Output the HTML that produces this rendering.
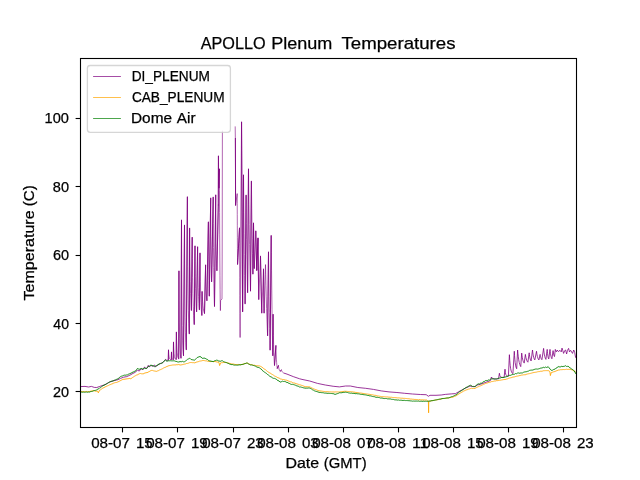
<!DOCTYPE html>
<html><head><meta charset="utf-8"><title>APOLLO Plenum Temperatures</title>
<style>html,body{margin:0;padding:0;background:#fff;}body{width:640px;height:480px;overflow:hidden;font-family:"Liberation Sans",sans-serif;}</style></head>
<body>
<svg width="640" height="480" viewBox="0 0 640 480" style="display:block;font-family:'Liberation Sans',sans-serif;will-change:transform">
<rect width="640" height="480" fill="#fff"/>
<defs><clipPath id="ax"><rect x="80.5" y="58.5" width="496" height="369"/></clipPath></defs>
<g clip-path="url(#ax)">
<polyline points="80.00,386.60 85.00,386.40 88.60,387.00 91.40,386.40 94.25,387.40 96.75,387.50 99.25,386.60 103.00,385.30 106.10,384.10 109.25,382.20 113.00,380.90 118.00,379.70 120.50,378.40 123.60,377.20 126.75,376.60 129.90,375.20 133.00,373.40 135.50,372.20 137.40,370.00 139.25,371.10 141.10,368.80 143.00,369.60 144.60,366.90 145.30,368.40 146.75,368.40 148.30,365.30 149.00,367.00 151.10,365.50 153.00,366.40 154.60,365.00 155.50,366.80 158.00,364.90 160.50,363.60 163.00,362.40 165.50,359.40 167.00,360.60 167.90,360.00" fill="none" stroke="#800080" stroke-width="0.8" stroke-linejoin="round" />
<polyline points="283.90,373.10 287.00,374.10 293.25,376.60 299.50,378.75 302.00,379.40 309.70,381.00 317.50,383.40 325.30,385.00 333.10,386.25 339.40,386.90 345.60,386.00 350.30,386.00 357.80,387.50 365.60,388.30 373.40,389.40 381.25,390.90 389.00,391.90 396.90,392.50 404.70,393.30 412.50,394.00 420.30,394.50 426.20,394.70 428.40,396.25 430.00,395.30 436.00,395.30 441.20,395.00 445.30,394.40 451.25,393.90 455.60,393.60 458.75,391.70 461.50,390.20 465.30,388.20 470.00,386.00 472.50,386.60 475.00,386.60 477.50,385.00 481.25,384.00 485.00,382.60 489.40,381.00 490.60,380.40 490.60,380.40 491.40,377.00 492.11,378.13 492.96,378.64 493.96,378.83 495.09,378.88 496.37,378.90 497.51,378.90 498.50,378.90 499.40,373.25 499.87,375.71 500.43,376.83 501.09,377.24 501.84,377.36 502.69,377.39 503.44,377.40 504.10,377.40 505.00,369.20 505.34,372.37 505.75,374.34 506.22,375.41 506.77,375.91 507.38,376.11 507.92,376.18 508.40,376.20 509.40,354.70 509.75,360.49 510.17,365.22 510.66,368.73 511.22,371.12 511.85,372.60 512.41,373.33 512.90,373.70 514.30,351.25 514.54,355.47 514.83,359.32 515.16,362.56 515.55,365.12 515.98,367.00 516.36,368.09 516.70,368.75 517.60,350.00 517.91,353.48 518.29,356.83 518.73,359.85 519.24,362.41 519.81,364.46 520.31,365.76 520.75,366.60 521.70,353.10 521.95,355.20 522.25,357.22 522.60,359.04 523.00,360.58 523.45,361.81 523.85,362.59 524.20,363.10 525.40,354.40 525.65,356.04 525.95,357.61 526.30,359.03 526.70,360.23 527.15,361.20 527.55,361.81 527.90,362.20 529.20,352.80 529.39,354.52 529.62,356.18 529.88,357.67 530.19,358.93 530.53,359.94 530.83,360.59 531.10,361.00 532.50,350.00 532.73,352.10 533.01,354.12 533.33,355.94 533.70,357.48 534.11,358.71 534.48,359.49 534.80,360.00 536.50,351.25 536.74,353.08 537.03,354.85 537.36,356.44 537.75,357.79 538.18,358.87 538.56,359.56 538.90,360.00 540.10,354.40 540.28,355.51 540.50,356.58 540.75,357.55 541.04,358.36 541.36,359.02 541.65,359.43 541.90,359.70 543.60,348.40 543.83,350.71 544.11,352.93 544.43,354.93 544.80,356.63 545.21,357.98 545.58,358.84 545.90,359.40 547.20,349.40 547.36,351.41 547.54,353.35 547.76,355.10 548.01,356.58 548.28,357.76 548.53,358.51 548.75,359.00 550.00,349.40 550.19,351.36 550.42,353.25 550.68,354.95 550.99,356.39 551.33,357.55 551.63,358.28 551.90,358.75 553.10,350.60 553.24,351.86 553.41,353.07 553.60,354.16 553.83,355.09 554.08,355.83 554.30,356.30 554.50,356.60 555.30,349.40 555.41,349.85 555.54,350.30 555.70,350.74 555.87,351.14 556.07,351.49 556.25,351.73 556.40,351.90 557.20,350.00 558.40,351.60 560.00,350.30 561.25,351.90 562.00,348.10 562.80,350.60 563.60,353.40 564.70,350.60 565.60,350.00 566.60,354.00 567.50,350.30 568.60,348.40 569.50,351.90 570.60,350.30 572.50,353.40 573.75,350.00 574.70,352.50 575.60,357.50 576.40,358.00" fill="none" stroke="#800080" stroke-width="0.8" stroke-linejoin="round" />
<polyline points="167.90,360.00 168.30,360.00 168.50,350.00 168.78,354.34 169.12,357.05 169.51,358.51 169.96,359.20 170.46,359.48 170.91,359.57 171.30,359.60 171.50,352.20 171.68,355.55 171.90,357.64 172.15,358.76 172.44,359.29 172.76,359.51 173.05,359.58 173.30,359.60 173.50,342.20 173.77,349.01 174.09,353.75 174.47,356.65 174.90,358.23 175.39,358.99 175.82,359.28 176.20,359.40 176.40,332.20 176.63,341.12 176.91,348.03 177.23,352.84 177.60,355.87 178.01,357.60 178.38,358.38 178.70,358.75 178.95,271.00 179.16,300.25 179.40,322.92 179.69,338.70 180.02,348.64 180.38,354.33 180.71,356.88 181.00,358.10 181.50,220.10 181.70,265.61 181.94,300.88 182.22,325.43 182.54,340.88 182.90,349.73 183.22,353.70 183.50,355.60 184.50,225.25 184.68,263.15 184.90,294.16 185.15,317.18 185.44,332.78 185.76,342.50 186.05,347.25 186.30,349.70 187.40,196.90 187.59,234.23 187.82,266.48 188.08,292.01 188.39,310.66 188.73,323.28 189.03,330.01 189.30,333.75 189.60,228.25 189.78,248.02 190.00,266.07 190.25,281.30 190.54,293.28 190.86,302.10 191.15,307.23 191.40,310.30 192.20,237.40 192.41,258.37 192.65,277.50 192.94,293.65 193.27,306.35 193.63,315.71 193.96,321.14 194.25,324.40 195.00,246.00 195.16,261.81 195.35,276.23 195.58,288.41 195.83,297.99 196.12,305.05 196.38,309.14 196.60,311.60 197.60,246.90 197.78,262.03 198.00,275.84 198.25,287.50 198.54,296.67 198.86,303.43 199.15,307.35 199.40,309.70 200.00,253.10 200.19,268.09 200.41,281.77 200.67,293.31 200.96,302.39 201.29,309.09 201.59,312.97 201.85,315.30 202.10,291.60 202.34,296.85 202.63,301.65 202.96,305.69 203.35,308.88 203.78,311.22 204.16,312.58 204.50,313.40 205.60,265.00 205.73,273.58 205.89,281.41 206.07,288.02 206.28,293.21 206.51,297.04 206.72,299.27 206.90,300.60 208.40,222.00 208.49,239.83 208.60,256.11 208.72,269.84 208.87,280.65 209.03,288.61 209.17,293.23 209.30,296.00 210.70,198.10 210.79,218.22 210.90,236.58 211.02,252.08 211.17,264.28 211.33,273.26 211.47,278.47 211.60,281.60 213.20,197.20 213.33,223.49 213.49,247.48 213.67,267.73 213.88,283.66 214.11,295.40 214.32,302.21 214.50,306.30 215.70,195.00 215.82,213.22 215.96,229.84 216.13,243.88 216.32,254.91 216.54,263.05 216.73,267.77 216.90,270.60 218.30,205.00 218.30,205.00 218.30,205.00 218.30,205.00 218.30,205.00 218.30,205.00 218.30,205.00 218.30,205.00 218.45,156.00 218.50,161.18 218.55,166.63 218.61,172.06 218.68,177.26 218.76,182.02 218.84,185.48 218.90,188.00 219.40,169.00 219.48,190.20 219.58,212.50 219.69,234.76 219.82,256.02 219.96,275.53 220.09,289.67 220.20,300.00 220.40,310.60 220.60,300.50 222.00,299.00 222.20,250.00 222.40,130.60" fill="none" stroke="#800080" stroke-width="0.6" stroke-linejoin="round" />
<polyline points="235.20,126.40 235.35,138.00 235.50,170.00 235.60,205.50 237.20,193.60 237.23,203.47 237.28,214.32 237.33,225.73 237.38,237.29 237.44,248.65 237.50,257.46 237.55,264.30 239.50,228.00 239.56,243.29 239.63,260.09 239.72,277.76 239.81,295.67 239.92,313.26 240.02,326.91 240.10,337.50 240.80,215.00 240.80,215.00 240.80,215.00 240.80,215.00 240.80,215.00 240.80,215.00 240.80,215.00 240.80,215.00 241.55,122.00 241.66,148.46 241.78,177.54 241.93,208.11 242.10,239.11 242.28,269.56 242.45,293.17 242.60,311.50 243.50,175.00 243.66,192.98 243.85,212.73 244.08,233.51 244.33,254.57 244.62,275.25 244.88,291.30 245.10,303.75 246.10,195.20 246.25,208.78 246.43,223.72 246.64,239.42 246.88,255.33 247.15,270.96 247.39,283.09 247.60,292.50 248.50,169.00 248.70,186.03 248.94,204.75 249.22,224.44 249.54,244.40 249.90,264.00 250.22,279.20 250.50,291.00 251.40,181.25 251.55,194.20 251.73,208.43 251.94,223.40 252.18,238.57 252.45,253.47 252.69,265.03 252.90,274.00 253.50,223.20 253.57,229.51 253.66,236.45 253.77,243.74 253.89,251.13 254.03,258.40 254.15,264.03 254.25,268.40 255.80,231.00 255.90,236.48 256.01,242.50 256.14,248.84 256.29,255.26 256.47,261.56 256.62,266.45 256.75,270.25 258.00,238.20 258.07,246.74 258.17,256.14 258.27,266.01 258.39,276.02 258.52,285.85 258.64,293.48 258.75,299.40 260.50,256.20 260.62,264.13 260.77,272.85 260.95,282.01 261.15,291.30 261.38,300.43 261.57,307.51 261.75,313.00 263.50,269.00 263.56,275.14 263.63,281.89 263.72,288.99 263.81,296.19 263.92,303.26 264.02,308.75 264.10,313.00 265.50,264.60 265.71,274.51 265.96,285.41 266.26,296.86 266.59,308.48 266.97,319.89 267.31,328.73 267.60,335.60 268.50,252.00 268.66,265.68 268.85,280.72 269.08,296.53 269.33,312.56 269.62,328.31 269.88,340.52 270.10,350.00 271.20,235.60 271.36,252.35 271.55,270.77 271.78,290.13 272.03,309.76 272.32,329.04 272.58,344.00 272.80,355.60 273.10,314.40 273.24,325.07 273.41,335.35 273.60,344.61 273.83,352.46 274.08,358.75 274.30,362.73 274.50,365.30 275.90,345.60 276.04,350.38 276.21,354.99 276.40,359.13 276.63,362.65 276.88,365.47 277.10,367.25 277.30,368.40 278.40,365.60 278.57,366.78 278.77,367.93 279.01,368.95 279.28,369.82 279.59,370.52 279.86,370.96 280.10,371.25 281.40,370.00 281.65,370.65 281.95,371.28 282.30,371.84 282.70,372.32 283.15,372.70 283.55,372.94 283.90,373.10" fill="none" stroke="#800080" stroke-width="0.6" stroke-linejoin="round" />
<line x1="235.4" y1="138" x2="235.55" y2="205.5" stroke="#800080" stroke-width="0.9"/>
<line x1="241.55" y1="122.00" x2="242.60" y2="311.50" stroke="#800080" stroke-width="0.85" stroke-linecap="round"/>
<line x1="242.60" y1="311.50" x2="243.50" y2="175.00" stroke="#800080" stroke-width="0.85" stroke-linecap="round"/>
<line x1="245.10" y1="303.75" x2="246.10" y2="195.20" stroke="#800080" stroke-width="0.85" stroke-linecap="round"/>
<line x1="247.60" y1="292.50" x2="248.50" y2="169.00" stroke="#800080" stroke-width="0.85" stroke-linecap="round"/>
<line x1="250.50" y1="291.00" x2="251.40" y2="181.25" stroke="#800080" stroke-width="0.85" stroke-linecap="round"/>
<line x1="252.90" y1="274.00" x2="253.50" y2="223.20" stroke="#800080" stroke-width="0.85" stroke-linecap="round"/>
<line x1="253.50" y1="223.20" x2="254.25" y2="268.40" stroke="#800080" stroke-width="0.85" stroke-linecap="round"/>
<line x1="255.80" y1="231.00" x2="256.75" y2="270.25" stroke="#800080" stroke-width="0.85" stroke-linecap="round"/>
<line x1="256.75" y1="270.25" x2="258.00" y2="238.20" stroke="#800080" stroke-width="0.85" stroke-linecap="round"/>
<line x1="258.00" y1="238.20" x2="258.75" y2="299.40" stroke="#800080" stroke-width="0.85" stroke-linecap="round"/>
<line x1="260.50" y1="256.20" x2="261.75" y2="313.00" stroke="#800080" stroke-width="0.85" stroke-linecap="round"/>
<line x1="263.50" y1="269.00" x2="264.10" y2="313.00" stroke="#800080" stroke-width="0.85" stroke-linecap="round"/>
<line x1="267.60" y1="335.60" x2="268.50" y2="252.00" stroke="#800080" stroke-width="0.85" stroke-linecap="round"/>
<line x1="270.10" y1="350.00" x2="271.20" y2="235.60" stroke="#800080" stroke-width="0.85" stroke-linecap="round"/>
<line x1="168.30" y1="360.00" x2="168.50" y2="350.00" stroke="#800080" stroke-width="0.85" stroke-linecap="round"/>
<line x1="171.30" y1="359.60" x2="171.50" y2="352.20" stroke="#800080" stroke-width="0.85" stroke-linecap="round"/>
<line x1="173.30" y1="359.60" x2="173.50" y2="342.20" stroke="#800080" stroke-width="0.85" stroke-linecap="round"/>
<line x1="176.20" y1="359.40" x2="176.40" y2="332.20" stroke="#800080" stroke-width="0.85" stroke-linecap="round"/>
<line x1="178.70" y1="358.75" x2="178.95" y2="271.00" stroke="#800080" stroke-width="0.85" stroke-linecap="round"/>
<line x1="181.00" y1="358.10" x2="181.50" y2="220.10" stroke="#800080" stroke-width="0.85" stroke-linecap="round"/>
<line x1="183.50" y1="355.60" x2="184.50" y2="225.25" stroke="#800080" stroke-width="0.85" stroke-linecap="round"/>
<line x1="186.30" y1="349.70" x2="187.40" y2="196.90" stroke="#800080" stroke-width="0.85" stroke-linecap="round"/>
<line x1="189.30" y1="333.75" x2="189.60" y2="228.25" stroke="#800080" stroke-width="0.85" stroke-linecap="round"/>
<line x1="191.40" y1="310.30" x2="192.20" y2="237.40" stroke="#800080" stroke-width="0.85" stroke-linecap="round"/>
<line x1="194.25" y1="324.40" x2="195.00" y2="246.00" stroke="#800080" stroke-width="0.85" stroke-linecap="round"/>
<line x1="196.60" y1="311.60" x2="197.60" y2="246.90" stroke="#800080" stroke-width="0.85" stroke-linecap="round"/>
<line x1="199.40" y1="309.70" x2="200.00" y2="253.10" stroke="#800080" stroke-width="0.85" stroke-linecap="round"/>
<line x1="201.85" y1="315.30" x2="202.10" y2="291.60" stroke="#800080" stroke-width="0.85" stroke-linecap="round"/>
<line x1="204.50" y1="313.40" x2="205.60" y2="265.00" stroke="#800080" stroke-width="0.85" stroke-linecap="round"/>
<line x1="206.90" y1="300.60" x2="208.40" y2="222.00" stroke="#800080" stroke-width="0.85" stroke-linecap="round"/>
<line x1="209.30" y1="296.00" x2="210.70" y2="198.10" stroke="#800080" stroke-width="0.85" stroke-linecap="round"/>
<line x1="211.60" y1="281.60" x2="213.20" y2="197.20" stroke="#800080" stroke-width="0.85" stroke-linecap="round"/>
<line x1="214.50" y1="306.30" x2="215.70" y2="195.00" stroke="#800080" stroke-width="0.85" stroke-linecap="round"/>
<line x1="216.90" y1="270.60" x2="218.30" y2="205.00" stroke="#800080" stroke-width="0.85" stroke-linecap="round"/>
<line x1="218.30" y1="205.00" x2="218.45" y2="156.00" stroke="#800080" stroke-width="0.85" stroke-linecap="round"/>
<line x1="218.90" y1="188.00" x2="219.40" y2="169.00" stroke="#800080" stroke-width="0.85" stroke-linecap="round"/>
<line x1="237.55" y1="264.30" x2="239.50" y2="228.00" stroke="#800080" stroke-width="0.85" stroke-linecap="round"/>
<line x1="272.80" y1="355.60" x2="273.10" y2="314.40" stroke="#800080" stroke-width="0.85" stroke-linecap="round"/>
<line x1="274.50" y1="365.30" x2="275.90" y2="345.60" stroke="#800080" stroke-width="0.85" stroke-linecap="round"/>
<line x1="277.30" y1="368.40" x2="278.40" y2="365.60" stroke="#800080" stroke-width="0.85" stroke-linecap="round"/>
<line x1="280.10" y1="371.25" x2="281.40" y2="370.00" stroke="#800080" stroke-width="0.85" stroke-linecap="round"/>
<polyline points="80.00,391.60 80.92,391.52 81.85,391.61 82.78,391.56 83.70,391.63 84.62,391.64 85.55,391.47 86.47,391.45 87.40,391.70 88.33,391.53 89.25,391.52 90.04,391.50 90.83,391.09 91.61,390.95 92.40,390.59 93.33,390.80 94.25,390.82 95.17,391.13 96.10,391.36 96.85,391.13 97.60,391.07 98.30,392.85 99.60,390.17 100.45,389.83 101.30,389.23 102.15,388.59 103.00,387.96 104.03,387.64 105.07,386.96 106.10,386.47 106.89,386.16 107.67,385.76 108.46,385.48 109.25,384.97 110.19,384.69 111.12,384.18 112.06,383.93 113.00,383.51 113.83,383.03 114.67,382.79 115.50,382.57 116.33,382.54 117.17,382.13 118.00,381.94 118.98,381.34 119.96,380.90 120.94,380.37 121.92,379.86 122.90,379.43 123.93,379.26 124.97,379.19 126.00,378.95 126.97,378.88 127.95,378.71 128.93,378.60 129.90,378.35 130.80,379.00 131.50,378.11 132.50,377.54 133.50,376.92 134.50,376.22 135.50,375.66 136.33,375.15 137.17,374.97 138.00,374.52 138.83,374.07 139.67,373.64 140.50,373.51 141.33,373.75 142.17,373.68 143.00,374.09 144.00,373.37 145.00,373.00 146.00,372.74 147.00,372.58 148.00,372.31 148.94,371.59 149.88,371.28 150.81,370.64 151.75,370.37 152.58,370.43 153.42,370.78 154.25,370.99 155.08,371.03 155.92,371.37 156.75,371.34 157.69,370.85 158.62,370.58 159.56,369.98 160.50,369.61 161.44,369.20 162.38,368.78 163.31,368.17 164.25,367.66 165.19,367.44 166.12,366.79 167.06,366.51 168.00,366.02 168.90,365.68 169.80,365.53 170.70,365.37 171.60,365.22 172.50,365.03 173.39,364.96 174.29,364.92 175.18,364.96 176.07,364.77 176.96,364.69 177.86,364.72 178.75,364.52 180.00,364.94 180.94,364.99 181.88,364.71 182.81,364.56 183.75,364.25 184.69,364.12 185.62,363.92 186.56,363.51 187.50,363.43 188.53,363.14 189.57,362.67 190.60,362.54 191.48,362.55 192.36,362.67 193.24,362.64 194.12,362.80 195.00,362.87 195.94,362.31 196.88,361.97 197.81,361.80 198.75,361.54 199.62,361.15 200.49,361.03 201.36,360.89 202.23,360.63 203.10,360.46 203.89,360.54 204.68,360.66 205.46,360.83 206.25,360.84 207.17,361.06 208.08,361.38 209.00,361.36 209.86,361.54 210.71,361.60 211.57,361.49 212.43,361.47 213.29,361.66 214.14,361.51 215.00,361.51 216.03,361.78 217.07,362.06 218.10,362.08 219.00,362.55 219.60,365.55 220.60,362.90 221.43,362.70 222.27,362.74 223.10,362.45 223.93,362.42 224.77,362.43 225.60,362.42 226.54,362.55 227.48,362.74 228.42,362.97 229.36,363.35 230.30,363.51 231.24,363.85 232.18,364.02 233.12,363.99 234.06,364.17 235.00,364.49 235.89,364.49 236.79,364.58 237.68,364.48 238.57,364.46 239.46,364.55 240.36,364.75 241.25,364.63 242.16,364.39 243.07,364.14 243.97,363.88 244.88,363.61 245.79,363.49 246.70,363.00 247.67,363.28 248.65,363.88 249.62,364.19 250.60,364.55 251.54,364.60 252.48,364.98 253.42,365.19 254.36,365.20 255.30,365.57 256.18,365.70 257.06,365.75 257.94,365.81 258.82,365.84 259.70,365.95 260.47,366.32 261.23,366.67 262.00,367.23 262.89,367.81 263.79,368.64 264.68,369.08 265.57,370.01 266.46,370.62 267.36,371.36 268.25,372.02 269.14,372.59 270.04,373.07 270.93,373.47 271.82,374.26 272.71,374.66 273.61,375.27 274.50,375.95 275.39,376.35 276.29,376.76 277.18,377.36 278.07,377.71 278.96,378.07 279.86,378.48 280.75,379.11 281.64,379.18 282.54,379.46 283.43,379.51 284.32,379.65 285.21,379.94 286.11,380.21 287.00,380.20 287.89,380.74 288.79,381.14 289.68,381.46 290.57,381.83 291.46,381.94 292.36,382.48 293.25,382.91 294.14,382.94 295.04,383.27 295.93,383.54 296.82,383.89 297.71,384.13 298.61,384.42 299.50,384.78 300.42,384.94 301.33,385.26 302.25,385.59 303.17,385.91 304.08,386.21 305.00,386.68 305.94,386.72 306.88,386.65 307.82,386.78 308.76,386.81 309.70,386.87 310.64,387.34 311.58,387.84 312.52,388.29 313.46,388.72 314.40,389.15 315.32,389.49 316.24,389.78 317.16,390.17 318.08,390.51 319.00,390.78 319.90,390.85 320.80,390.98 321.70,391.12 322.60,391.27 323.50,391.42 324.40,391.47 325.30,391.65 326.17,391.66 327.03,391.68 327.90,391.71 328.77,391.78 329.63,391.85 330.50,391.85 331.37,391.94 332.23,391.95 333.10,391.96 334.00,391.99 334.90,392.00 335.80,391.89 336.70,391.93 337.60,391.92 338.50,391.98 339.40,391.97 340.29,391.79 341.17,391.78 342.06,391.67 342.94,391.49 343.83,391.43 344.71,391.28 345.60,391.30 346.54,391.35 347.48,391.45 348.42,391.51 349.36,391.56 350.30,391.64 351.24,391.75 352.18,391.81 353.11,392.03 354.05,392.07 354.99,392.23 355.93,392.47 356.86,392.49 357.80,392.63 358.67,392.75 359.53,392.99 360.40,393.00 361.27,393.09 362.13,393.34 363.00,393.34 363.87,393.57 364.73,393.66 365.60,393.80 366.47,393.96 367.33,394.04 368.20,394.21 369.07,394.23 369.93,394.49 370.80,394.59 371.67,394.76 372.53,394.80 373.40,395.04 374.27,395.25 375.14,395.29 376.02,395.51 376.89,395.72 377.76,395.94 378.63,396.03 379.51,396.19 380.38,396.38 381.25,396.62 382.11,396.70 382.97,396.69 383.83,396.75 384.69,396.81 385.56,396.85 386.42,396.92 387.28,396.92 388.14,397.04 389.00,397.18 389.88,397.16 390.76,397.30 391.63,397.28 392.51,397.44 393.39,397.53 394.27,397.59 395.14,397.65 396.02,397.72 396.90,397.82 397.77,397.93 398.63,397.88 399.50,397.94 400.37,398.11 401.23,398.20 402.10,398.20 402.97,398.26 403.83,398.37 404.70,398.35 405.57,398.45 406.43,398.53 407.30,398.68 408.17,398.73 409.03,398.80 409.90,398.96 410.77,399.09 411.63,399.08 412.50,399.23 413.34,399.26 414.19,399.40 415.03,399.43 415.87,399.45 416.71,399.51 417.56,399.55 418.40,399.70 418.60,400.28 419.20,399.55 420.30,399.78 421.20,399.80 422.10,399.90 423.00,399.83 423.90,399.99 424.80,399.94 425.70,399.99 426.60,399.99 427.50,400.65 428.40,401.25 428.60,412.81 428.80,401.50 429.40,401.29 430.25,401.12 431.10,400.86 431.95,400.72 432.80,400.57 433.74,400.33 434.68,400.14 435.62,399.98 436.56,399.89 437.50,399.73 438.39,399.59 439.29,399.39 440.18,399.10 441.07,398.91 441.96,398.73 442.86,398.54 443.75,398.43 444.58,398.37 445.42,398.30 446.25,398.11 447.08,398.13 447.92,397.95 448.75,397.89 449.69,397.79 450.62,397.53 451.56,397.38 452.50,397.35 453.44,396.88 454.38,396.50 455.31,396.15 456.25,395.78 457.19,395.05 458.12,394.47 459.06,393.86 460.00,393.25 460.94,392.64 461.88,392.14 462.81,391.64 463.75,390.98 464.80,390.61 465.85,390.09 466.90,389.73 467.82,389.50 468.75,388.98 469.68,388.87 470.60,388.52 471.48,388.28 472.36,388.53 473.24,388.36 474.12,388.48 475.00,388.48 475.83,387.87 476.67,387.52 477.50,387.05 478.44,386.69 479.38,386.13 480.31,385.88 481.25,385.54 482.08,385.09 482.92,384.69 483.75,384.21 484.58,383.96 485.42,383.56 486.25,383.32 487.14,383.04 488.04,382.74 488.93,382.36 489.82,382.24 490.71,381.97 491.61,381.57 492.50,381.52 493.39,381.30 494.29,381.00 495.18,381.10 496.07,380.72 496.96,380.64 497.86,380.61 498.75,380.43 499.64,380.29 500.54,380.19 501.43,380.00 502.32,379.83 503.21,379.66 504.11,379.50 505.00,379.56 505.89,379.30 506.79,378.97 507.68,378.76 508.57,378.37 509.46,378.07 510.36,377.84 511.25,377.71 512.14,377.25 513.04,377.17 513.93,376.88 514.82,376.82 515.71,376.48 516.61,376.26 517.50,376.07 518.33,375.88 519.17,375.71 520.00,375.36 520.83,375.40 521.67,375.07 522.50,375.01 523.33,374.85 524.17,374.74 525.00,374.83 525.89,374.58 526.79,374.18 527.68,373.95 528.57,373.78 529.46,373.64 530.36,373.43 531.25,373.17 532.14,372.96 533.04,372.65 533.93,372.56 534.82,372.32 535.71,372.25 536.61,372.09 537.50,371.81 538.39,371.65 539.29,371.64 540.18,371.24 541.07,371.31 541.96,371.16 542.86,371.01 543.75,370.66 544.62,370.68 545.49,370.64 546.36,370.62 547.23,370.68 548.10,370.56 549.00,370.94 549.90,371.61 550.40,375.60 551.10,372.73 552.08,372.44 553.05,371.90 554.02,371.81 555.00,371.45 556.00,371.00 557.00,370.61 558.00,370.19 558.81,369.98 559.62,369.96 560.44,369.69 561.25,369.70 562.08,369.68 562.92,369.55 563.75,369.52 564.58,369.57 565.42,369.48 566.25,369.19 567.19,369.41 568.12,369.39 569.06,369.24 570.00,369.36 570.83,369.55 571.67,369.74 572.50,370.11 573.45,370.68 574.40,370.95 575.20,371.71 576.00,372.26" fill="none" stroke="#ffa500" stroke-width="0.85" stroke-linejoin="round" />
<polyline points="80.00,392.20 80.92,392.13 81.85,392.06 82.78,392.26 83.70,392.03 84.62,392.21 85.55,392.15 86.47,392.02 87.40,392.20 88.33,392.01 89.25,392.17 90.04,391.79 90.83,391.56 91.61,391.46 92.40,391.38 93.43,390.78 94.47,390.51 95.50,390.35 96.33,390.08 97.17,389.53 98.00,389.06 98.83,388.76 99.67,387.85 100.50,387.64 101.33,386.88 102.17,386.29 103.00,385.75 104.03,385.22 105.07,384.83 106.10,383.97 106.89,383.66 107.67,383.21 108.46,382.62 109.25,382.22 110.19,381.70 111.12,381.37 112.06,381.11 113.00,380.97 113.83,380.51 114.67,380.11 115.50,379.86 116.33,379.45 117.17,379.03 118.00,378.87 118.83,378.11 119.67,377.21 120.50,376.63 121.53,376.18 122.57,375.88 123.60,375.39 124.39,375.14 125.17,375.34 125.96,374.92 126.75,374.97 127.54,374.79 128.32,374.24 129.11,374.06 129.90,373.57 130.93,373.20 131.97,372.62 133.00,371.97 133.83,371.94 134.67,371.05 135.50,371.10 136.45,369.74 137.40,368.48 138.15,368.66 138.90,369.34 140.00,369.14 141.10,368.37 142.05,369.06 143.00,368.96 143.80,368.80 144.60,367.95 145.68,368.44 146.75,368.42 147.68,367.13 148.60,366.49 149.43,366.34 150.27,365.26 151.10,365.26 152.05,365.44 153.00,365.87 153.83,365.93 154.67,366.75 155.50,366.23 156.33,365.71 157.17,365.22 158.00,365.07 158.83,363.85 159.67,363.78 160.50,363.45 161.33,363.38 162.17,362.92 163.00,362.56 163.83,361.25 164.67,360.65 165.50,359.86 166.25,360.93 167.00,361.56 167.92,360.70 168.83,360.81 169.75,360.79 170.67,360.74 171.58,360.84 172.50,360.85 173.39,360.81 174.29,360.82 175.18,361.22 176.07,361.35 176.96,361.63 177.86,362.01 178.75,362.01 180.00,361.61 180.88,361.67 181.76,361.71 182.64,361.33 183.52,361.84 184.40,361.77 185.43,361.09 186.47,360.31 187.50,359.34 188.60,358.84 189.70,358.16 190.80,359.28 191.90,359.74 192.83,359.84 193.77,360.03 194.70,360.10 195.53,359.37 196.37,358.36 197.20,357.50 198.13,357.19 199.07,356.76 200.00,356.52 201.10,357.07 202.20,358.32 203.13,358.27 204.07,358.09 205.00,358.25 205.83,358.74 206.67,359.19 207.50,359.47 208.33,360.31 209.17,360.80 210.00,360.88 211.03,361.22 212.07,361.32 213.10,361.66 213.93,361.27 214.77,360.69 215.60,360.50 216.43,360.20 217.27,360.21 218.10,360.87 219.05,361.02 220.00,361.19 220.83,361.23 221.67,360.72 222.50,360.82 223.44,361.55 224.38,361.94 225.32,362.30 226.26,362.50 227.20,363.02 228.14,363.22 229.08,363.90 230.02,364.08 230.96,364.55 231.90,364.60 232.79,364.58 233.67,364.97 234.56,365.12 235.44,365.08 236.33,365.10 237.21,365.15 238.10,365.14 239.04,364.78 239.98,364.89 240.92,364.73 241.86,364.48 242.80,364.42 243.78,364.09 244.75,363.61 245.72,363.39 246.70,363.07 247.67,363.24 248.65,364.01 249.62,364.52 250.60,364.97 251.54,364.93 252.48,365.15 253.42,365.47 254.36,365.76 255.30,366.07 256.18,366.63 257.06,367.11 257.94,367.38 258.82,367.48 259.70,367.89 260.47,368.71 261.23,369.02 262.00,370.10 262.89,370.96 263.79,371.60 264.68,372.29 265.57,372.84 266.46,373.38 267.36,374.46 268.25,374.90 269.19,375.81 270.12,376.53 271.06,376.81 272.00,377.44 272.83,378.13 273.67,378.37 274.50,378.40 275.33,378.74 276.17,379.12 277.00,379.94 278.03,380.62 279.07,380.95 280.10,382.10 280.93,381.97 281.77,381.56 282.60,381.16 283.48,381.47 284.36,381.41 285.24,381.53 286.12,382.29 287.00,382.29 287.94,382.67 288.88,383.36 289.81,383.51 290.75,384.22 291.69,384.45 292.62,384.33 293.56,384.60 294.50,384.88 295.35,385.16 296.20,385.69 297.05,385.82 297.90,386.23 298.75,386.38 299.64,387.06 300.54,386.98 301.43,387.23 302.32,387.48 303.21,387.79 304.11,387.86 305.00,388.23 305.94,388.10 306.88,388.11 307.82,388.11 308.76,387.96 309.70,388.08 310.64,388.54 311.58,389.03 312.52,389.81 313.46,390.16 314.40,390.79 315.32,391.17 316.24,391.42 317.16,391.65 318.08,392.01 319.00,392.32 319.90,392.50 320.80,392.41 321.70,392.66 322.60,392.68 323.50,392.80 324.40,393.07 325.30,393.10 326.17,393.17 327.03,393.29 327.90,393.39 328.77,393.31 329.63,393.41 330.50,393.43 331.37,393.49 332.23,393.60 333.10,393.59 334.05,394.01 335.00,394.39 335.88,394.21 336.76,393.82 337.64,393.55 338.52,393.25 339.40,392.73 340.29,392.75 341.17,392.79 342.06,392.69 342.94,392.41 343.83,392.33 344.71,392.35 345.60,392.17 346.54,392.38 347.48,392.49 348.42,392.83 349.36,393.03 350.30,393.22 351.24,393.08 352.18,393.33 353.11,393.39 354.05,393.32 354.99,393.62 355.93,393.73 356.86,393.58 357.80,393.89 358.67,393.86 359.53,394.02 360.40,394.31 361.27,394.41 362.13,394.34 363.00,394.56 363.87,394.73 364.73,394.81 365.60,394.91 366.47,395.12 367.33,395.42 368.20,395.39 369.07,395.73 369.93,395.87 370.80,395.92 371.67,396.19 372.53,396.46 373.40,396.60 374.27,396.64 375.14,397.08 376.02,397.19 376.89,397.41 377.76,397.31 378.63,397.53 379.51,397.63 380.38,398.02 381.25,398.03 382.11,398.08 382.97,398.25 383.83,398.49 384.69,398.55 385.56,398.47 386.42,398.53 387.28,398.85 388.14,398.83 389.00,398.96 389.88,398.90 390.76,399.01 391.63,399.32 392.51,399.37 393.39,399.38 394.27,399.76 395.14,399.80 396.02,399.97 396.90,399.88 397.77,400.16 398.63,399.98 399.50,400.28 400.37,400.21 401.23,400.23 402.10,400.35 402.97,400.52 403.83,400.37 404.70,400.39 405.57,400.57 406.43,400.55 407.30,400.58 408.17,400.67 409.03,400.70 409.90,400.81 410.77,400.91 411.63,400.97 412.50,401.18 413.37,401.05 414.23,401.13 415.10,401.05 415.97,401.12 416.83,401.04 417.70,401.13 418.57,401.07 419.43,401.30 420.30,401.27 421.17,401.16 422.03,401.24 422.90,401.38 423.77,401.13 424.63,401.35 425.50,401.23 426.37,401.25 427.23,401.35 428.10,401.22 429.04,401.10 429.98,401.01 430.92,400.94 431.86,400.60 432.80,400.60 433.74,400.40 434.68,400.22 435.62,399.99 436.56,399.81 437.50,399.57 438.39,399.40 439.29,399.20 440.18,399.22 441.07,398.88 441.96,398.67 442.86,398.46 443.75,398.50 444.58,398.43 445.42,398.28 446.25,398.08 447.08,397.99 447.92,397.92 448.75,397.89 449.69,397.42 450.62,397.13 451.56,396.70 452.50,396.54 453.44,396.14 454.38,395.61 455.31,395.12 456.25,394.94 457.30,393.81 458.35,392.89 459.40,391.85 460.32,391.34 461.25,390.74 462.18,390.13 463.10,389.41 464.05,388.95 465.00,388.05 465.95,387.68 466.90,387.01 467.82,386.75 468.75,386.03 469.68,385.54 470.60,385.26 471.55,385.71 472.50,386.46 473.33,386.42 474.17,386.58 475.00,386.51 475.83,385.82 476.67,385.20 477.50,384.12 478.44,383.84 479.38,384.06 480.31,383.24 481.25,383.41 482.12,382.78 482.99,381.79 483.86,381.77 484.73,381.24 485.60,380.49 486.55,380.49 487.50,380.47 488.45,379.92 489.40,380.12 490.32,379.35 491.25,378.83 492.12,378.87 492.99,378.95 493.86,378.84 494.73,379.11 495.60,379.03 496.65,378.94 497.70,378.51 498.75,378.27 499.80,378.01 500.85,377.84 501.90,377.32 502.93,377.64 503.97,377.24 505.00,377.09 506.03,376.79 507.07,376.53 508.10,376.09 509.15,375.32 510.20,375.44 511.25,374.97 512.30,374.60 513.35,374.42 514.40,374.31 515.43,373.58 516.47,373.73 517.50,373.08 518.33,372.95 519.17,373.09 520.00,373.41 520.83,372.82 521.67,372.97 522.50,372.91 523.33,372.35 524.17,372.04 525.00,371.89 525.89,371.79 526.79,371.62 527.68,371.27 528.57,371.06 529.46,370.43 530.36,370.24 531.25,370.08 532.14,370.24 533.04,369.76 533.93,369.76 534.82,369.19 535.71,369.05 536.61,369.02 537.50,369.12 538.39,368.92 539.29,368.69 540.18,368.21 541.07,368.15 541.96,367.90 542.86,367.69 543.75,367.23 544.62,367.66 545.49,367.05 546.36,367.47 547.23,367.33 548.10,366.56 549.15,367.90 550.20,369.19 551.25,370.33 552.50,370.21 553.33,369.67 554.17,369.21 555.00,369.31 556.03,368.10 557.07,367.66 558.10,366.65 559.15,366.82 560.20,367.02 561.25,366.34 562.12,366.68 562.99,366.33 563.86,366.45 564.73,366.18 565.60,365.71 566.43,366.41 567.27,366.36 568.10,366.27 569.15,366.97 570.20,368.03 571.25,368.72 572.08,369.23 572.92,369.73 573.75,370.49 574.88,372.05 576.00,373.99" fill="none" stroke="#008000" stroke-width="0.9" stroke-linejoin="round" />
</g>
<rect x="80.5" y="58.5" width="496" height="369" fill="none" stroke="#000" stroke-width="1.1"/>
<line x1="122.50" y1="427.5" x2="122.50" y2="432.4" stroke="#000" stroke-width="1.1"/>
<text x="91.18" y="447.90" stroke="#000" stroke-width="0.25" font-size="14.6" textLength="38.75" lengthAdjust="spacingAndGlyphs">08-07</text>
<text x="135.99" y="447.90" stroke="#000" stroke-width="0.25" font-size="14.6" textLength="16.78" lengthAdjust="spacingAndGlyphs">15</text>
<line x1="177.50" y1="427.5" x2="177.50" y2="432.4" stroke="#000" stroke-width="1.1"/>
<text x="146.18" y="447.90" stroke="#000" stroke-width="0.25" font-size="14.6" textLength="38.75" lengthAdjust="spacingAndGlyphs">08-07</text>
<text x="190.99" y="447.90" stroke="#000" stroke-width="0.25" font-size="14.6" textLength="16.78" lengthAdjust="spacingAndGlyphs">19</text>
<line x1="233.50" y1="427.5" x2="233.50" y2="432.4" stroke="#000" stroke-width="1.1"/>
<text x="202.18" y="447.90" stroke="#000" stroke-width="0.25" font-size="14.6" textLength="38.75" lengthAdjust="spacingAndGlyphs">08-07</text>
<text x="246.99" y="447.90" stroke="#000" stroke-width="0.25" font-size="14.6" textLength="16.78" lengthAdjust="spacingAndGlyphs">23</text>
<line x1="288.50" y1="427.5" x2="288.50" y2="432.4" stroke="#000" stroke-width="1.1"/>
<text x="257.18" y="447.90" stroke="#000" stroke-width="0.25" font-size="14.6" textLength="38.75" lengthAdjust="spacingAndGlyphs">08-08</text>
<text x="301.99" y="447.90" stroke="#000" stroke-width="0.25" font-size="14.6" textLength="16.78" lengthAdjust="spacingAndGlyphs">03</text>
<line x1="343.50" y1="427.5" x2="343.50" y2="432.4" stroke="#000" stroke-width="1.1"/>
<text x="312.18" y="447.90" stroke="#000" stroke-width="0.25" font-size="14.6" textLength="38.75" lengthAdjust="spacingAndGlyphs">08-08</text>
<text x="356.99" y="447.90" stroke="#000" stroke-width="0.25" font-size="14.6" textLength="16.78" lengthAdjust="spacingAndGlyphs">07</text>
<line x1="398.50" y1="427.5" x2="398.50" y2="432.4" stroke="#000" stroke-width="1.1"/>
<text x="367.18" y="447.90" stroke="#000" stroke-width="0.25" font-size="14.6" textLength="38.75" lengthAdjust="spacingAndGlyphs">08-08</text>
<text x="411.99" y="447.90" stroke="#000" stroke-width="0.25" font-size="14.6" textLength="16.78" lengthAdjust="spacingAndGlyphs">11</text>
<line x1="453.50" y1="427.5" x2="453.50" y2="432.4" stroke="#000" stroke-width="1.1"/>
<text x="422.18" y="447.90" stroke="#000" stroke-width="0.25" font-size="14.6" textLength="38.75" lengthAdjust="spacingAndGlyphs">08-08</text>
<text x="466.99" y="447.90" stroke="#000" stroke-width="0.25" font-size="14.6" textLength="16.78" lengthAdjust="spacingAndGlyphs">15</text>
<line x1="508.50" y1="427.5" x2="508.50" y2="432.4" stroke="#000" stroke-width="1.1"/>
<text x="477.18" y="447.90" stroke="#000" stroke-width="0.25" font-size="14.6" textLength="38.75" lengthAdjust="spacingAndGlyphs">08-08</text>
<text x="521.99" y="447.90" stroke="#000" stroke-width="0.25" font-size="14.6" textLength="16.78" lengthAdjust="spacingAndGlyphs">19</text>
<line x1="563.50" y1="427.5" x2="563.50" y2="432.4" stroke="#000" stroke-width="1.1"/>
<text x="532.18" y="447.90" stroke="#000" stroke-width="0.25" font-size="14.6" textLength="38.75" lengthAdjust="spacingAndGlyphs">08-08</text>
<text x="576.99" y="447.90" stroke="#000" stroke-width="0.25" font-size="14.6" textLength="16.78" lengthAdjust="spacingAndGlyphs">23</text>
<line x1="75.6" y1="391.5" x2="80.5" y2="391.5" stroke="#000" stroke-width="1.1"/>
<text x="52.99" y="397.00" stroke="#000" stroke-width="0.25" font-size="14.6" textLength="16.04" lengthAdjust="spacingAndGlyphs">20</text>
<line x1="75.6" y1="323.5" x2="80.5" y2="323.5" stroke="#000" stroke-width="1.1"/>
<text x="53.36" y="328.60" stroke="#000" stroke-width="0.25" font-size="14.6" textLength="15.55" lengthAdjust="spacingAndGlyphs">40</text>
<line x1="75.6" y1="255.5" x2="80.5" y2="255.5" stroke="#000" stroke-width="1.1"/>
<text x="52.89" y="259.90" stroke="#000" stroke-width="0.25" font-size="14.6" textLength="16.09" lengthAdjust="spacingAndGlyphs">60</text>
<line x1="75.6" y1="186.5" x2="80.5" y2="186.5" stroke="#000" stroke-width="1.1"/>
<text x="52.84" y="191.90" stroke="#000" stroke-width="0.25" font-size="14.6" textLength="16.17" lengthAdjust="spacingAndGlyphs">80</text>
<line x1="75.6" y1="118.5" x2="80.5" y2="118.5" stroke="#000" stroke-width="1.1"/>
<text x="44.57" y="123.00" stroke="#000" stroke-width="0.25" font-size="14.6" textLength="24.36" lengthAdjust="spacingAndGlyphs">100</text>
<text x="285.41" y="467.80" stroke="#000" stroke-width="0.25" font-size="14.1" textLength="33.68" lengthAdjust="spacingAndGlyphs">Date</text>
<text x="323.82" y="467.80" stroke="#000" stroke-width="0.25" font-size="14.1" textLength="42.75" lengthAdjust="spacingAndGlyphs">(GMT)</text>
<text transform="translate(34.00,300.49) rotate(-90)" stroke="#000" stroke-width="0.25" font-size="14.1" textLength="90.15" lengthAdjust="spacingAndGlyphs">Temperature</text>
<text transform="translate(34.00,206.30) rotate(-90)" stroke="#000" stroke-width="0.25" font-size="14.1" textLength="21.07" lengthAdjust="spacingAndGlyphs">(C)</text>
<text x="200.69" y="48.80" stroke="#000" stroke-width="0.25" font-size="17" textLength="64.91" lengthAdjust="spacingAndGlyphs">APOLLO</text>
<text x="271.16" y="48.80" stroke="#000" stroke-width="0.25" font-size="17" textLength="61.15" lengthAdjust="spacingAndGlyphs">Plenum</text>
<text x="341.43" y="48.80" stroke="#000" stroke-width="0.25" font-size="17" textLength="114.09" lengthAdjust="spacingAndGlyphs">Temperatures</text>
<rect x="87.4" y="65.5" width="143" height="66.8" rx="2.8" ry="2.8" fill="#fff" fill-opacity="0.8" stroke="#ccc" stroke-opacity="0.8" stroke-width="1.3"/>
<line x1="93.1" y1="76.50" x2="120.9" y2="76.50" stroke="#800080" stroke-width="0.7"/>
<line x1="93.1" y1="97.50" x2="120.9" y2="97.50" stroke="#ffa500" stroke-width="0.7"/>
<line x1="93.1" y1="118.50" x2="120.9" y2="118.50" stroke="#008000" stroke-width="0.7"/>
<text x="131.69" y="80.70" stroke="#000" stroke-width="0.25" font-size="14.1" textLength="78.19" lengthAdjust="spacingAndGlyphs">DI_PLENUM</text>
<text x="131.88" y="101.70" stroke="#000" stroke-width="0.25" font-size="14.1" textLength="92.65" lengthAdjust="spacingAndGlyphs">CAB_PLENUM</text>
<text x="131.02" y="122.80" stroke="#000" stroke-width="0.25" font-size="14.1" textLength="41.05" lengthAdjust="spacingAndGlyphs">Dome</text>
<text x="176.81" y="122.80" stroke="#000" stroke-width="0.25" font-size="14.1" textLength="18.71" lengthAdjust="spacingAndGlyphs">Air</text>
</svg>
</body></html>
